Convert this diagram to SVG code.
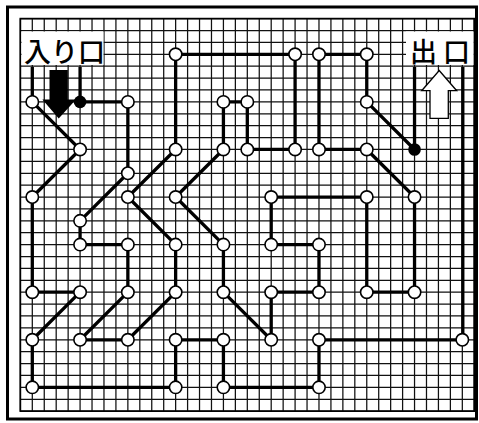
<svg xmlns="http://www.w3.org/2000/svg" width="479" height="423" viewBox="0 0 479 423">
<style>
.grid{stroke:#111;stroke-width:1.25;fill:none}
.gb{stroke:#000;stroke-width:1.7;fill:none}
.frame{stroke:#000;stroke-width:3;fill:none}
.path{stroke:#000;stroke-width:3.3;fill:none;stroke-linejoin:round}
.node{fill:#fff;stroke:#000;stroke-width:1.6}
.dot{fill:#000}
.label{font-family:"Noto Sans CJK JP","Noto Sans CJK SC",sans-serif;font-size:27px;font-weight:500;fill:#000}
</style>
<rect width="479" height="423" fill="#fff"/>
<rect class="frame" x="7.5" y="7" width="469" height="412"/>
<g id="grid">
<path class="grid" d="M20.36 18.62V411.15M32.3 18.62V411.15M44.25 18.62V411.15M56.19 18.62V411.15M68.14 18.62V411.15M80.08 18.62V411.15M92.03 18.62V411.15M103.97 18.62V411.15M115.92 18.62V411.15M127.86 18.62V411.15M139.81 18.62V411.15M151.75 18.62V411.15M163.7 18.62V411.15M175.64 18.62V411.15M187.59 18.62V411.15M199.53 18.62V411.15M211.48 18.62V411.15M223.42 18.62V411.15M235.37 18.62V411.15M247.31 18.62V411.15M259.26 18.62V411.15M271.2 18.62V411.15M283.15 18.62V411.15M295.09 18.62V411.15M307.04 18.62V411.15M318.98 18.62V411.15M330.93 18.62V411.15M342.87 18.62V411.15M354.82 18.62V411.15M366.76 18.62V411.15M378.71 18.62V411.15M390.65 18.62V411.15M402.6 18.62V411.15M414.54 18.62V411.15M426.49 18.62V411.15M438.43 18.62V411.15M450.38 18.62V411.15M462.32 18.62V411.15M474.27 18.62V411.15"/>
<path class="grid" d="M20.36 18.62H474.27M20.36 30.51H474.27M20.36 42.41H474.27M20.36 54.3H474.27M20.36 66.2H474.27M20.36 78.09H474.27M20.36 89.99H474.27M20.36 101.88H474.27M20.36 113.78H474.27M20.36 125.67H474.27M20.36 137.57H474.27M20.36 149.46H474.27M20.36 161.36H474.27M20.36 173.25H474.27M20.36 185.15H474.27M20.36 197.04H474.27M20.36 208.94H474.27M20.36 220.83H474.27M20.36 232.73H474.27M20.36 244.62H474.27M20.36 256.52H474.27M20.36 268.41H474.27M20.36 280.31H474.27M20.36 292.2H474.27M20.36 304.1H474.27M20.36 315.99H474.27M20.36 327.89H474.27M20.36 339.78H474.27M20.36 351.68H474.27M20.36 363.57H474.27M20.36 375.47H474.27M20.36 387.36H474.27M20.36 399.26H474.27M20.36 411.15H474.27"/>
<rect class="gb" x="20.36" y="18.62" width="453.91" height="392.53"/>
</g>
<g id="labels">
<rect x="21.5" y="31.5" width="82" height="33.5" fill="#fff"/>
<rect x="406" y="31.5" width="67.5" height="33.5" fill="#fff"/>
<text class="label" x="24" y="62">入り口</text>
<text class="label" x="410" y="62"><tspan x="410">出</tspan><tspan x="443">口</tspan></text>
<polygon points="49.5,70 67.8,70 67.8,99.5 76,99.5 58.7,118.5 42.4,99.5 49.5,99.5" fill="#000"/>
<polygon points="439.2,70.5 456.7,90.7 448.3,90.7 448.3,118.3 430,118.3 430,90.7 421.7,90.7" fill="#fff" stroke="#000" stroke-width="1.3"/>
</g>
<g id="connectors">
<path class="path" d="M32.3 67V101.88L80.08 149.46L32.3 197.04V292.2H80.08L32.3 339.78V387.36H175.64"/>
<path class="path" d="M80.08 67V101.88H127.86V173.25L80.08 220.83V244.62H127.86V292.2L80.08 339.78H127.86L175.64 292.2"/>
<path class="path" d="M175.64 292.2V244.62L127.86 197.04L175.64 149.46V54.3H295.09V149.46H247.31V101.88H223.42V149.46L175.64 197.04L223.42 244.62V292.2L271.2 339.78V292.2H318.98V244.62H271.2V197.04H366.76V292.2H414.54V197.04L366.76 149.46H318.98V54.3H366.76V101.88L414.54 149.46V67"/>
<path class="path" d="M175.64 387.36V339.78H223.42V387.36H318.98V339.78H462.8V67"/>
</g>
<g id="nodes">
<g id="n6-0"><circle class="node" cx="175.64" cy="54.3" r="6.2"/></g>
<g id="n11-0"><circle class="node" cx="295.09" cy="54.3" r="6.2"/></g>
<g id="n12-0"><circle class="node" cx="318.98" cy="54.3" r="6.2"/></g>
<g id="n14-0"><circle class="node" cx="366.76" cy="54.3" r="6.2"/></g>
<g id="n0-2"><circle class="node" cx="32.3" cy="101.88" r="6.2"/></g>
<g id="n2-2"><circle class="dot" cx="80.08" cy="101.88" r="6.3"/></g>
<g id="n4-2"><circle class="node" cx="127.86" cy="101.88" r="6.2"/></g>
<g id="n8-2"><circle class="node" cx="223.42" cy="101.88" r="6.2"/></g>
<g id="n9-2"><circle class="node" cx="247.31" cy="101.88" r="6.2"/></g>
<g id="n14-2"><circle class="node" cx="366.76" cy="101.88" r="6.2"/></g>
<g id="n2-4"><circle class="node" cx="80.08" cy="149.46" r="6.2"/></g>
<g id="n6-4"><circle class="node" cx="175.64" cy="149.46" r="6.2"/></g>
<g id="n8-4"><circle class="node" cx="223.42" cy="149.46" r="6.2"/></g>
<g id="n9-4"><circle class="node" cx="247.31" cy="149.46" r="6.2"/></g>
<g id="n11-4"><circle class="node" cx="295.09" cy="149.46" r="6.2"/></g>
<g id="n12-4"><circle class="node" cx="318.98" cy="149.46" r="6.2"/></g>
<g id="n14-4"><circle class="node" cx="366.76" cy="149.46" r="6.2"/></g>
<g id="n16-4"><circle class="dot" cx="414.54" cy="149.46" r="6.3"/></g>
<g id="n4-5"><circle class="node" cx="127.86" cy="173.25" r="6.2"/></g>
<g id="n0-6"><circle class="node" cx="32.3" cy="197.04" r="6.2"/></g>
<g id="n4-6"><circle class="node" cx="127.86" cy="197.04" r="6.2"/></g>
<g id="n6-6"><circle class="node" cx="175.64" cy="197.04" r="6.2"/></g>
<g id="n10-6"><circle class="node" cx="271.2" cy="197.04" r="6.2"/></g>
<g id="n14-6"><circle class="node" cx="366.76" cy="197.04" r="6.2"/></g>
<g id="n16-6"><circle class="node" cx="414.54" cy="197.04" r="6.2"/></g>
<g id="n2-7"><circle class="node" cx="80.08" cy="220.83" r="6.2"/></g>
<g id="n2-8"><circle class="node" cx="80.08" cy="244.62" r="6.2"/></g>
<g id="n4-8"><circle class="node" cx="127.86" cy="244.62" r="6.2"/></g>
<g id="n6-8"><circle class="node" cx="175.64" cy="244.62" r="6.2"/></g>
<g id="n8-8"><circle class="node" cx="223.42" cy="244.62" r="6.2"/></g>
<g id="n10-8"><circle class="node" cx="271.2" cy="244.62" r="6.2"/></g>
<g id="n12-8"><circle class="node" cx="318.98" cy="244.62" r="6.2"/></g>
<g id="n0-10"><circle class="node" cx="32.3" cy="292.2" r="6.2"/></g>
<g id="n2-10"><circle class="node" cx="80.08" cy="292.2" r="6.2"/></g>
<g id="n4-10"><circle class="node" cx="127.86" cy="292.2" r="6.2"/></g>
<g id="n6-10"><circle class="node" cx="175.64" cy="292.2" r="6.2"/></g>
<g id="n8-10"><circle class="node" cx="223.42" cy="292.2" r="6.2"/></g>
<g id="n10-10"><circle class="node" cx="271.2" cy="292.2" r="6.2"/></g>
<g id="n12-10"><circle class="node" cx="318.98" cy="292.2" r="6.2"/></g>
<g id="n14-10"><circle class="node" cx="366.76" cy="292.2" r="6.2"/></g>
<g id="n16-10"><circle class="node" cx="414.54" cy="292.2" r="6.2"/></g>
<g id="n0-12"><circle class="node" cx="32.3" cy="339.78" r="6.2"/></g>
<g id="n2-12"><circle class="node" cx="80.08" cy="339.78" r="6.2"/></g>
<g id="n4-12"><circle class="node" cx="127.86" cy="339.78" r="6.2"/></g>
<g id="n6-12"><circle class="node" cx="175.64" cy="339.78" r="6.2"/></g>
<g id="n8-12"><circle class="node" cx="223.42" cy="339.78" r="6.2"/></g>
<g id="n10-12"><circle class="node" cx="271.2" cy="339.78" r="6.2"/></g>
<g id="n12-12"><circle class="node" cx="318.98" cy="339.78" r="6.2"/></g>
<g id="n18-12"><circle class="node" cx="462.32" cy="339.78" r="6.2"/></g>
<g id="n0-14"><circle class="node" cx="32.3" cy="387.36" r="6.2"/></g>
<g id="n6-14"><circle class="node" cx="175.64" cy="387.36" r="6.2"/></g>
<g id="n8-14"><circle class="node" cx="223.42" cy="387.36" r="6.2"/></g>
<g id="n12-14"><circle class="node" cx="318.98" cy="387.36" r="6.2"/></g>
</g>
</svg>
